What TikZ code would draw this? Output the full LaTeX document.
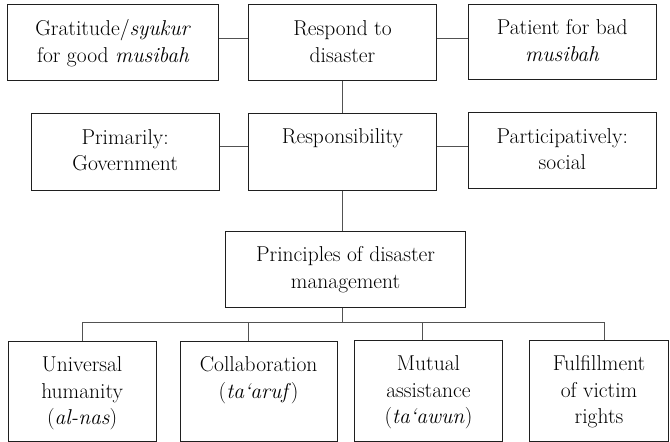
\documentclass[tikz,border=0pt]{standalone}
\usepackage{fontspec}
\usetikzlibrary{calc}
\tikzset{
  boxnode/.style={draw=black!88, line width=1pt, rectangle, inner sep=0pt},
  txt/.style={anchor=north, inner sep=0pt, align=center, font=\fontsize{21.5}{26.6}\selectfont, text=black},
  link/.style={draw=black!68, line width=1pt},
}
\newcommand{\fl}{\rule{0pt}{16pt}}
\newcommand{\mkbox}[5]{%
  \node[boxnode, minimum width={(#4-#2)*1pt}, minimum height={(#5-#3)*1pt}] (#1) at ({(#2+#4)/2},{(#3+#5)/2}) {};}
\begin{document}
\begin{tikzpicture}[x=1pt,y=-1pt]
\useasboundingbox (0,0) rectangle (670,442);
% boxes
\mkbox{grat}{7.7}{4.7}{218.7}{80.7}
\mkbox{resp}{248.3}{4.7}{436.7}{80.7}
\mkbox{pat}{468.3}{4}{656.3}{79.3}
\mkbox{prim}{31}{113.3}{219.3}{190}
\mkbox{respo}{248.3}{113}{436.7}{190}
\mkbox{part}{468.3}{112.3}{656.3}{188.3}
\mkbox{princ}{225.5}{231}{465.7}{307}
\mkbox{univ}{8.3}{341}{156}{441}
\mkbox{collab}{180}{341}{337.3}{441}
\mkbox{mutual}{354.3}{340}{502.7}{441}
\mkbox{fulfil}{529.3}{340}{668.8}{441}
% texts
\node[txt] (tgrat) at ($(grat.north)+(0,15)$) {\fl Gratitude/\textit{syukur}\\for good \textit{musibah}};
\node[txt] (tresp) at ($(resp.north)+(0,15)$) {\fl Respond to\\disaster};
\node[txt] (tpat) at ($(pat.north)+(0,15)$) {\fl Patient for bad\\\textit{musibah}};
\node[txt] (tprim) at ($(prim.north)+(0,15)$) {\fl Primarily:\\Government};
\node[txt] (trespo) at ($(respo.north)+(0,15)$) {\fl Responsibility};
\node[txt] (tpart) at ($(part.north)+(0,15)$) {\fl Participatively:\\social};
\node[txt] (tprinc) at ($(princ.north)+(0,15)$) {\fl Principles of disaster\\management};
\node[txt] (tuniv) at ($(univ.north)+(0,15)$) {\fl Universal\\humanity\\(\textit{al-nas})};
\node[txt] (tcollab) at ($(collab.north)+(0,15)$) {\fl Collaboration\\(\textit{ta‘aruf})};
\node[txt] (tmutual) at ($(mutual.north)+(0,15)$) {\fl Mutual\\assistance\\(\textit{ta‘awun})};
\node[txt] (tfulfil) at ($(fulfil.north)+(0,15)$) {\fl Fulfillment\\of victim\\rights};
% connectors
\draw[link] (grat.east |- 0,38) -- (resp.west |- 0,38);
\draw[link] (resp.east |- 0,38) -- (pat.west |- 0,38);
\draw[link] (prim.east |- 0,146.7) -- (respo.west |- 0,146.7);
\draw[link] (respo.east |- 0,146.7) -- (part.west |- 0,146.7);
\draw[link] (resp.south) -- (respo.north);
\draw[link] (respo.south) -- (respo.south |- princ.north);
\coordinate (br) at (342.7,322);
\coordinate (d1) at (82.7,322);
\coordinate (d2) at (248.3,322);
\coordinate (d3) at (422.7,322);
\coordinate (d4) at (604,322);
\draw[link] (br |- princ.south) -- (br);
\draw[link] (d1) -- (d4);
\draw[link] (d1) -- (d1 |- univ.north);
\draw[link] (d2) -- (d2 |- collab.north);
\draw[link] (d3) -- (d3 |- mutual.north);
\draw[link] (d4) -- (d4 |- fulfil.north);
\end{tikzpicture}
\end{document}
